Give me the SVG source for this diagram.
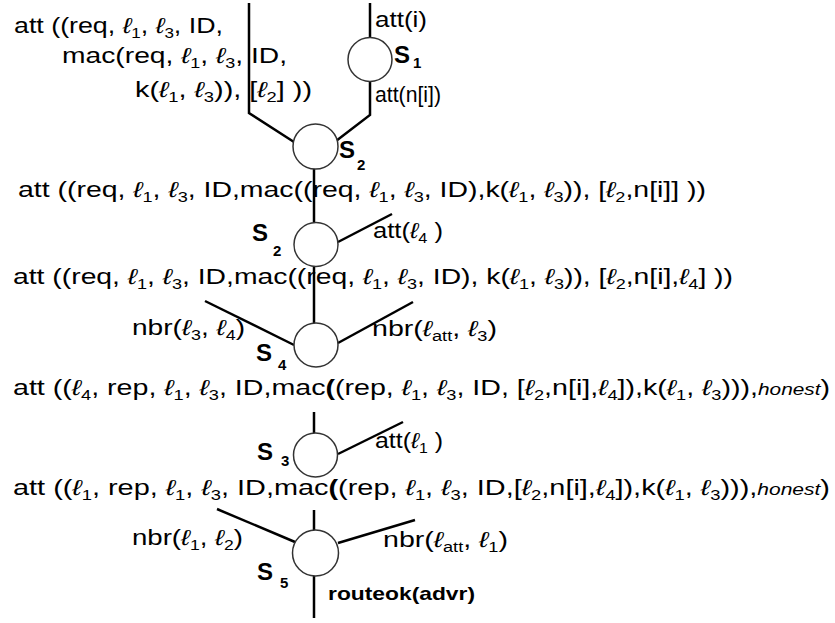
<svg xmlns="http://www.w3.org/2000/svg" width="835" height="623" viewBox="0 0 835 623">
<style>
.t{font-family:"Liberation Sans",Arial,"DejaVu Sans",sans-serif;font-size:22px;fill:#000}
.l{font-style:italic}
.sb{font-size:14px}
.h{font-style:italic;font-size:16px}
.bp{font-weight:bold}
.rb{font-family:"Liberation Sans",Arial,sans-serif;font-weight:bold;font-size:19px;fill:#000}
.nl{font-family:"Liberation Sans",Arial,sans-serif;font-weight:bold;font-size:24px;fill:#000}
.ns{font-size:15px}
.node{fill:#fff;stroke:#333;stroke-width:1.5}
.e{stroke:#000;stroke-width:2.5;fill:none}
</style>
<rect width="835" height="623" fill="#fff"/>
<g id="connectors">
<polyline class="e" points="249,3 249,113 294,142"/>
<line class="e" x1="370" y1="3" x2="370" y2="37"/>
<polyline class="e" points="370,82 370,115 336,141"/>
<line class="e" x1="314" y1="169" x2="314" y2="222"/>
<line class="e" x1="338" y1="242" x2="392" y2="214"/>
<line class="e" x1="314" y1="266" x2="314" y2="323"/>
<line class="e" x1="205" y1="301" x2="294" y2="345"/>
<line class="e" x1="338" y1="343" x2="413" y2="302"/>
<line class="e" x1="314" y1="412" x2="314" y2="433"/>
<line class="e" x1="338" y1="454" x2="403" y2="422"/>
<line class="e" x1="314" y1="510" x2="314" y2="530"/>
<line class="e" x1="217" y1="509" x2="295" y2="542"/>
<line class="e" x1="338" y1="543" x2="415" y2="520"/>
<line class="e" x1="314" y1="576" x2="314" y2="618"/>
</g>
<g id="S1"><circle class="node" cx="370" cy="59.5" r="22"/><text class="nl" x="394" y="63">S<tspan class="ns" x="413" y="68">1</tspan></text></g>
<g id="S2a"><circle class="node" cx="315.5" cy="146.5" r="22.5"/><text class="nl" x="339" y="158">S<tspan class="ns" x="357" y="170">2</tspan></text></g>
<g id="S2b"><circle class="node" cx="316" cy="244.5" r="22"/><text class="nl" x="252" y="241">S<tspan class="ns" x="273" y="256">2</tspan></text></g>
<g id="S4"><circle class="node" cx="316" cy="345" r="22"/><text class="nl" x="256" y="361">S<tspan class="ns" x="278" y="370">4</tspan></text></g>
<g id="S3"><circle class="node" cx="315.5" cy="455" r="22"/><text class="nl" x="257" y="460">S<tspan class="ns" x="281" y="466">3</tspan></text></g>
<g id="S5"><circle class="node" cx="315.5" cy="553" r="23"/><text class="nl" x="257" y="580">S<tspan class="ns" x="280" y="588">5</tspan></text></g>
<g id="labels">
<text class="t" x="14" y="33" textLength="209" lengthAdjust="spacingAndGlyphs">att ((req, <tspan class="l">ℓ</tspan><tspan class="sb" dy="5">1</tspan><tspan dy="-5">, </tspan><tspan class="l">ℓ</tspan><tspan class="sb" dy="5">3</tspan><tspan dy="-5">, ID,</tspan></text>
<text class="t" x="62" y="63" textLength="225" lengthAdjust="spacingAndGlyphs">mac(req, <tspan class="l">ℓ</tspan><tspan class="sb" dy="5">1</tspan><tspan dy="-5">, </tspan><tspan class="l">ℓ</tspan><tspan class="sb" dy="5">3</tspan><tspan dy="-5">, ID,</tspan></text>
<text class="t" x="135" y="97" textLength="177" lengthAdjust="spacingAndGlyphs">k(<tspan class="l">ℓ</tspan><tspan class="sb" dy="5">1</tspan><tspan dy="-5">, </tspan><tspan class="l">ℓ</tspan><tspan class="sb" dy="5">3</tspan><tspan dy="-5">)), [</tspan><tspan class="l">ℓ</tspan><tspan class="sb" dy="5">2</tspan><tspan dy="-5">] ))</tspan></text>
<text class="t" x="375" y="27" textLength="52" lengthAdjust="spacingAndGlyphs">att(i)</text>
<text class="t" x="375" y="102" textLength="66" lengthAdjust="spacingAndGlyphs">att(n[i])</text>
<text class="t" x="18" y="197" textLength="688" lengthAdjust="spacingAndGlyphs">att ((req, <tspan class="l">ℓ</tspan><tspan class="sb" dy="5">1</tspan><tspan dy="-5">, </tspan><tspan class="l">ℓ</tspan><tspan class="sb" dy="5">3</tspan><tspan dy="-5">, ID,mac((req, </tspan><tspan class="l">ℓ</tspan><tspan class="sb" dy="5">1</tspan><tspan dy="-5">, </tspan><tspan class="l">ℓ</tspan><tspan class="sb" dy="5">3</tspan><tspan dy="-5">, ID),k(</tspan><tspan class="l">ℓ</tspan><tspan class="sb" dy="5">1</tspan><tspan dy="-5">, </tspan><tspan class="l">ℓ</tspan><tspan class="sb" dy="5">3</tspan><tspan dy="-5">)), [</tspan><tspan class="l">ℓ</tspan><tspan class="sb" dy="5">2</tspan><tspan dy="-5">,n[i]] ))</tspan></text>
<text class="t" x="373" y="238" textLength="70" lengthAdjust="spacingAndGlyphs">att(<tspan class="l">ℓ</tspan><tspan class="sb" dy="5">4</tspan><tspan dy="-5"> )</tspan></text>
<text class="t" x="13" y="284" textLength="720" lengthAdjust="spacingAndGlyphs">att ((req, <tspan class="l">ℓ</tspan><tspan class="sb" dy="5">1</tspan><tspan dy="-5">, </tspan><tspan class="l">ℓ</tspan><tspan class="sb" dy="5">3</tspan><tspan dy="-5">, ID,mac((req, </tspan><tspan class="l">ℓ</tspan><tspan class="sb" dy="5">1</tspan><tspan dy="-5">, </tspan><tspan class="l">ℓ</tspan><tspan class="sb" dy="5">3</tspan><tspan dy="-5">, ID), k(</tspan><tspan class="l">ℓ</tspan><tspan class="sb" dy="5">1</tspan><tspan dy="-5">, </tspan><tspan class="l">ℓ</tspan><tspan class="sb" dy="5">3</tspan><tspan dy="-5">)), [</tspan><tspan class="l">ℓ</tspan><tspan class="sb" dy="5">2</tspan><tspan dy="-5">,n[i],</tspan><tspan class="l">ℓ</tspan><tspan class="sb" dy="5">4</tspan><tspan dy="-5">] ))</tspan></text>
<text class="t" x="132" y="335" textLength="113" lengthAdjust="spacingAndGlyphs">nbr(<tspan class="l">ℓ</tspan><tspan class="sb" dy="5">3</tspan><tspan dy="-5">, </tspan><tspan class="l">ℓ</tspan><tspan class="sb" dy="5">4</tspan><tspan dy="-5">)</tspan></text>
<text class="t" x="372" y="336" textLength="125" lengthAdjust="spacingAndGlyphs">nbr(<tspan class="l">ℓ</tspan><tspan class="sb" dy="5">att</tspan><tspan dy="-5">, </tspan><tspan class="l">ℓ</tspan><tspan class="sb" dy="5">3</tspan><tspan dy="-5">)</tspan></text>
<text class="t" x="13" y="395" textLength="817" lengthAdjust="spacingAndGlyphs">att ((<tspan class="l">ℓ</tspan><tspan class="sb" dy="5">4</tspan><tspan dy="-5">, rep, </tspan><tspan class="l">ℓ</tspan><tspan class="sb" dy="5">1</tspan><tspan dy="-5">, </tspan><tspan class="l">ℓ</tspan><tspan class="sb" dy="5">3</tspan><tspan dy="-5">, ID,mac</tspan><tspan class="bp">(</tspan>(rep, <tspan class="l">ℓ</tspan><tspan class="sb" dy="5">1</tspan><tspan dy="-5">, </tspan><tspan class="l">ℓ</tspan><tspan class="sb" dy="5">3</tspan><tspan dy="-5">, ID, [</tspan><tspan class="l">ℓ</tspan><tspan class="sb" dy="5">2</tspan><tspan dy="-5">,n[i],</tspan><tspan class="l">ℓ</tspan><tspan class="sb" dy="5">4</tspan><tspan dy="-5">]),k(</tspan><tspan class="l">ℓ</tspan><tspan class="sb" dy="5">1</tspan><tspan dy="-5">, </tspan><tspan class="l">ℓ</tspan><tspan class="sb" dy="5">3</tspan><tspan dy="-5">))),</tspan><tspan class="h">honest</tspan>)</text>
<text class="t" x="375" y="448" textLength="68" lengthAdjust="spacingAndGlyphs">att(<tspan class="l">ℓ</tspan><tspan class="sb" dy="5">1</tspan><tspan dy="-5"> )</tspan></text>
<text class="t" x="13" y="495" textLength="817" lengthAdjust="spacingAndGlyphs">att ((<tspan class="l">ℓ</tspan><tspan class="sb" dy="5">1</tspan><tspan dy="-5">, rep, </tspan><tspan class="l">ℓ</tspan><tspan class="sb" dy="5">1</tspan><tspan dy="-5">, </tspan><tspan class="l">ℓ</tspan><tspan class="sb" dy="5">3</tspan><tspan dy="-5">, ID,mac</tspan><tspan class="bp">(</tspan>(rep, <tspan class="l">ℓ</tspan><tspan class="sb" dy="5">1</tspan><tspan dy="-5">, </tspan><tspan class="l">ℓ</tspan><tspan class="sb" dy="5">3</tspan><tspan dy="-5">, ID,[</tspan><tspan class="l">ℓ</tspan><tspan class="sb" dy="5">2</tspan><tspan dy="-5">,n[i],</tspan><tspan class="l">ℓ</tspan><tspan class="sb" dy="5">4</tspan><tspan dy="-5">]),k(</tspan><tspan class="l">ℓ</tspan><tspan class="sb" dy="5">1</tspan><tspan dy="-5">, </tspan><tspan class="l">ℓ</tspan><tspan class="sb" dy="5">3</tspan><tspan dy="-5">))),</tspan><tspan class="h">honest</tspan>)</text>
<text class="t" x="132" y="545" textLength="111" lengthAdjust="spacingAndGlyphs">nbr(<tspan class="l">ℓ</tspan><tspan class="sb" dy="5">1</tspan><tspan dy="-5">, </tspan><tspan class="l">ℓ</tspan><tspan class="sb" dy="5">2</tspan><tspan dy="-5">)</tspan></text>
<text class="t" x="383" y="547" textLength="125" lengthAdjust="spacingAndGlyphs">nbr(<tspan class="l">ℓ</tspan><tspan class="sb" dy="5">att</tspan><tspan dy="-5">, </tspan><tspan class="l">ℓ</tspan><tspan class="sb" dy="5">1</tspan><tspan dy="-5">)</tspan></text>
<text class="rb" x="328" y="600" textLength="147" lengthAdjust="spacingAndGlyphs">routeok(advr)</text>
</g>
</svg>
